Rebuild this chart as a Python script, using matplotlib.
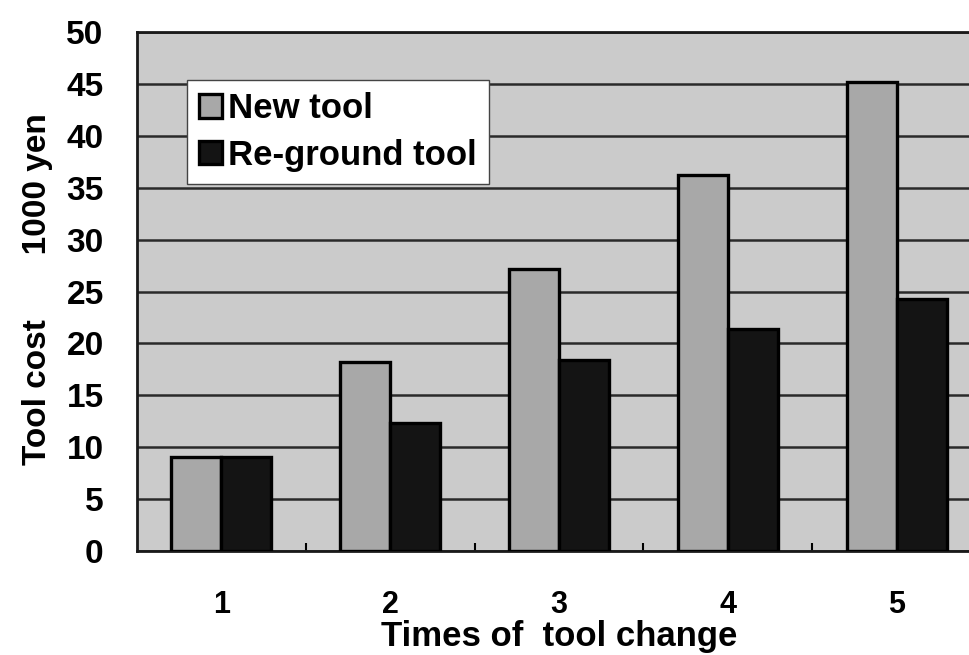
import matplotlib
matplotlib.use("Agg")
import matplotlib.pyplot as plt
import numpy as np

# valori
changes = [1, 2, 3, 4, 5]
new_tool = [9.1, 18.2, 27.2, 36.2, 45.2]
reground_tool = [9.1, 12.3, 18.4, 21.4, 24.3]
yticks = [0, 5, 10, 15, 20, 25, 30, 35, 40, 45, 50]

plt.rcParams['font.family'] = ['Liberation Sans', 'DejaVu Sans']
plt.rcParams['font.weight'] = 'bold'

fig = plt.figure(figsize=(9.69, 6.55), dpi=100)
ax = fig.add_axes([137 / 969, 104 / 655, 844 / 969, 519 / 655])
ax.set_facecolor("#cbcbcb")

x = np.array(changes)
w = 0.296
ax.bar(x - w / 2, new_tool, width=w, color="#a8a8a8", edgecolor="black",
       linewidth=2.4, label="New tool", zorder=3)
ax.bar(x + w / 2, reground_tool, width=w, color="#141414", edgecolor="black",
       linewidth=2.4, label="Re-ground tool", zorder=3)

ax.set_xlim(0.5, 5.5)
ax.set_ylim(0, 50)
ax.set_yticks(yticks)
ax.set_xticks(changes)
ax.set_xticks([1.5, 2.5, 3.5, 4.5], minor=True)
ax.tick_params(axis="y", length=0, labelsize=24, pad=24)
ax.tick_params(axis="x", which="major", length=0, labelsize=22, pad=28)
ax.tick_params(axis="x", which="minor", direction="in", length=6, width=1.5)
ax.yaxis.grid(True, color="#2a2a2a", linewidth=1.8, zorder=1)
ax.set_axisbelow(True)
for s in ax.spines.values():
    s.set_linewidth(2)
    s.set_color("#1a1a1a")

ax.set_xlabel("Times of  tool change", fontsize=25, fontweight="bold", labelpad=0)
ax.set_ylabel("Tool cost       1000 yen", fontsize=24, fontweight="bold")
ax.yaxis.set_label_coords(-0.10, 0.505)

leg = ax.legend(loc="upper left", bbox_to_anchor=(0.059, 0.9075),
                prop={'size': 25, 'weight': 'bold'},
                frameon=True, fancybox=False, framealpha=1, edgecolor="#444444",
                handlelength=0.65, handleheight=0.65, handletextpad=0.2,
                borderpad=0.35, labelspacing=0.4, borderaxespad=0)
leg.get_frame().set_linewidth(1.0)

fig.savefig("out.png", dpi=100)
